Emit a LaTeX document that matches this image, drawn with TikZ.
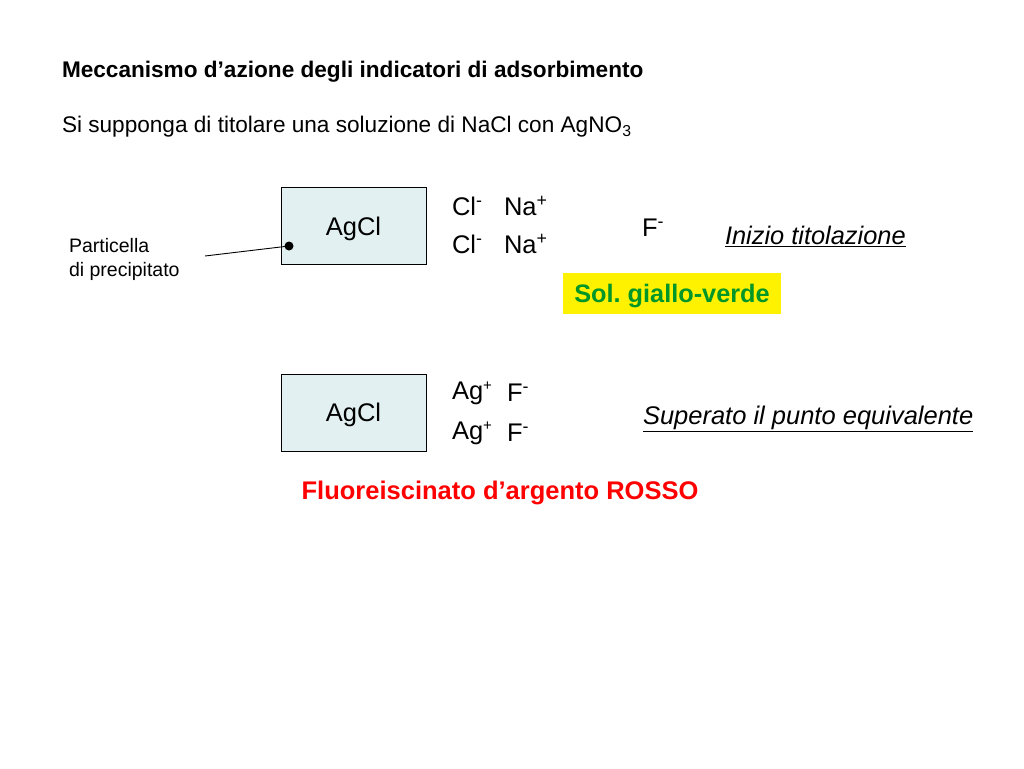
\documentclass[tikz,border=0pt]{standalone}
\usepackage{fontspec}
\setmainfont{Liberation Sans}
\definecolor{boxfill}{RGB}{226,240,241}
\definecolor{solgreen}{RGB}{0,150,40}
\frenchspacing
\begin{document}
\begin{tikzpicture}[x=1pt,y=-1pt,
  every node/.style={inner sep=0pt,outer sep=0pt},
  agbox/.style={draw=black,line width=0.8pt,fill=boxfill,minimum width=145pt,minimum height=77pt},
  big/.style={font=\fontsize{25.5}{30}\selectfont},
  ion/.style={anchor=west,font=\fontsize{25.5}{30}\selectfont},
  lbl/.style={anchor=west,font=\fontsize{19.5}{24}\selectfont}]
\useasboundingbox (0,0) rectangle (1024,768);
\node[anchor=west,font=\bfseries\fontsize{22.6}{26}\selectfont] (title) at (62,72) {Meccanismo d’azione degli indicatori di adsorbimento};
\node[anchor=west,font=\fontsize{22.6}{26}\selectfont] (sub) at (62,127) {Si supponga di titolare una soluzione di NaCl con AgNO\textsubscript{3}};
\node[agbox] (b1) at (353.5,225.5) {};
\node[agbox] (b2) at (353.5,412.5) {};
\node[big] (l1) at (353.5,229) {AgCl};
\node[big] (l2) at (353.5,415) {AgCl};
\node[ion] (c1) at (452,206) {Cl\textsuperscript{-}};
\node[ion] (n1) at (504,206) {Na\textsuperscript{+}};
\node[ion] (c2) at (452,244) {Cl\textsuperscript{-}};
\node[ion] (n2) at (504,244) {Na\textsuperscript{+}};
\node[ion] (f0) at (642,228) {F\textsuperscript{-}};
\node[anchor=west,font=\itshape\fontsize{25.4}{30}\selectfont] (t1) at (725,236) {\underline{Inizio titolazione}};
\node[fill=yellow,minimum width=218pt,minimum height=41pt] (sol) at (672,293.5) {};
\node[text=solgreen,font=\bfseries\fontsize{25.3}{30}\selectfont] (soltxt) at (672,296) {Sol. giallo-verde};
\node[lbl,align=left] (part) at (69,259) {Particella\\di precipitato};
\coordinate (dot) at (289,246);
\coordinate (lend) at (205,256);
\draw[line width=0.9pt] (lend) -- (dot);
\fill (dot) circle (4.5pt);
\node[ion] (a1) at (452,393) {Ag\textsuperscript{\fontsize{15}{15}\selectfont +}};
\node[ion] (f1) at (507,393) {F\textsuperscript{-}};
\node[ion] (a2) at (452,433) {Ag\textsuperscript{\fontsize{15}{15}\selectfont +}};
\node[ion] (f2) at (507,433) {F\textsuperscript{-}};
\node[anchor=west,font=\itshape\fontsize{25.5}{30}\selectfont] (t2) at (643,419) {\underline{Superato il punto equivalente}};
\node[text=red,font=\bfseries\fontsize{25.5}{30}\selectfont] (fl) at (500,493) {Fluoreiscinato d’argento ROSSO};
\end{tikzpicture}
\end{document}
